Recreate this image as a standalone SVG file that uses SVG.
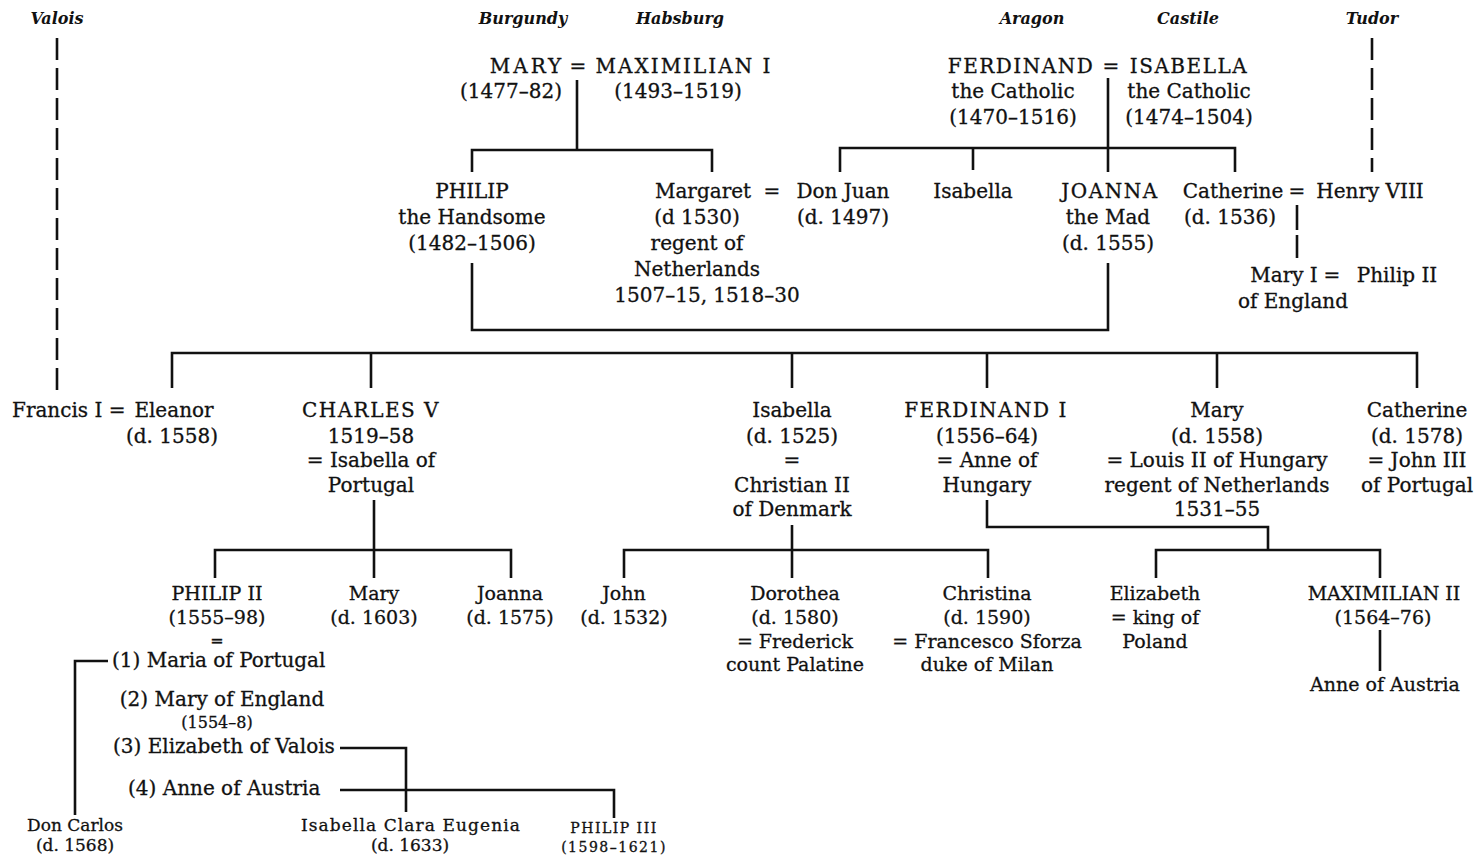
<svg xmlns="http://www.w3.org/2000/svg" width="1479" height="863" viewBox="0 0 1479 863">
<style>
text{font-family:"DejaVu Serif","Liberation Serif",serif;fill:#111;stroke:#111;stroke-width:0.3;font-size:20px;text-anchor:middle}
.h{font-style:italic;font-weight:bold;font-size:16px;stroke-width:0}
.c{letter-spacing:1.5px}
.s{font-size:19px}
.w{font-size:20px;text-anchor:start}
.st{text-anchor:start}
.b{font-size:17px}
.bs{font-size:16px}
.xs{font-size:14px;letter-spacing:1.5px}
.ln{stroke:#111;stroke-width:2.6;fill:none}
.dash{stroke-dasharray:22 8}
</style>
<rect width="1479" height="863" fill="#fff"/>
<g id="connectors" class="ln">
<path class="ln dash" d="M57 38V390"/>
<path class="ln dash" d="M1372 38V172"/>
<path d="M577 80V150M472 172V150H712V172"/>
<path d="M1108 78V172M840 172V148H1235V172M973 148V170"/>
<path d="M1297 205V230M1297 235V258"/>
<path d="M472 263V330H1108V263"/>
<path d="M172 388V353H1417V388M371 353V388M792 353V388M987 353V388M1217 353V388"/>
<path d="M374 500V578M215 578V550H511V578"/>
<path d="M792 525V578M624 578V550H988V578"/>
<path d="M987 500V527H1268V550M1156 578V550H1380V578"/>
<path d="M1380 630V671"/>
<path d="M108 661H75V815"/>
<path d="M340 748H406V812"/>
<path d="M340 790H614V818"/>
</g>
<g id="houses">
<text class="h" x="57" y="24">Valois</text>
<text class="h" x="523" y="24">Burgundy</text>
<text class="h" x="680" y="24">Habsburg</text>
<text class="h" x="1032" y="24">Aragon</text>
<text class="h" x="1188" y="24">Castile</text>
<text class="h" x="1372" y="24">Tudor</text>
</g>
<g id="mary-burgundy">
<text x="527" y="73" style="letter-spacing:3px">MARY</text>
<text x="511" y="98">(1477–82)</text>
</g>
<text x="578" y="73">=</text>
<g id="maximilian-i">
<text x="684" y="73" style="letter-spacing:2px">MAXIMILIAN I</text>
<text x="678" y="98">(1493–1519)</text>
</g>
<g id="ferdinand-catholic">
<text class="c" x="1021" y="73">FERDINAND</text>
<text x="1013" y="98">the Catholic</text>
<text x="1013" y="124">(1470–1516)</text>
</g>
<text x="1111" y="73">=</text>
<g id="isabella-catholic">
<text class="c" x="1189" y="73">ISABELLA</text>
<text x="1189" y="98">the Catholic</text>
<text x="1189" y="124">(1474–1504)</text>
</g>
<g id="philip-handsome">
<text x="472" y="198">PHILIP</text>
<text x="472" y="224">the Handsome</text>
<text x="472" y="250">(1482–1506)</text>
</g>
<g id="margaret">
<text x="703" y="198">Margaret</text>
<text x="697" y="224">(d 1530)</text>
<text x="697" y="250">regent of</text>
<text x="697" y="276">Netherlands</text>
<text x="707" y="302">1507–15, 1518–30</text>
</g>
<text x="772" y="198">=</text>
<g id="don-juan">
<text x="843" y="198">Don Juan</text>
<text x="843" y="224">(d. 1497)</text>
</g>
<g id="isabella-1"><text x="973" y="198">Isabella</text></g>
<g id="joanna-mad">
<text class="c" x="1110" y="198">JOANNA</text>
<text x="1108" y="224">the Mad</text>
<text x="1108" y="250">(d. 1555)</text>
</g>
<g id="catherine-aragon">
<text x="1233" y="198">Catherine</text>
<text x="1230" y="224">(d. 1536)</text>
</g>
<text x="1297" y="198">=</text>
<g id="henry-viii"><text x="1370" y="198">Henry VIII</text></g>
<g id="mary-i-england">
<text x="1284" y="282">Mary I</text>
<text x="1293" y="308">of England</text>
</g>
<text x="1332" y="282">=</text>
<g id="philip-ii-tudor"><text x="1397" y="282">Philip II</text></g>
<g id="francis-i"><text class="st" x="12" y="417">Francis I =</text></g>
<g id="eleanor">
<text x="174" y="417">Eleanor</text>
<text x="172" y="443">(d. 1558)</text>
</g>
<g id="charles-v">
<text class="c" x="371" y="417">CHARLES V</text>
<text x="371" y="443">1519–58</text>
<text x="371" y="467">= Isabella of</text>
<text x="371" y="492">Portugal</text>
</g>
<g id="isabella-denmark">
<text x="792" y="417">Isabella</text>
<text x="792" y="443">(d. 1525)</text>
<text x="792" y="467">=</text>
<text x="792" y="492">Christian II</text>
<text x="792" y="516">of Denmark</text>
</g>
<g id="ferdinand-i">
<text class="c" x="986" y="417">FERDINAND I</text>
<text x="987" y="443">(1556–64)</text>
<text x="987" y="467">= Anne of</text>
<text x="987" y="492">Hungary</text>
</g>
<g id="mary-hungary">
<text x="1217" y="417">Mary</text>
<text x="1217" y="443">(d. 1558)</text>
<text x="1217" y="467">= Louis II of Hungary</text>
<text x="1217" y="492">regent of Netherlands</text>
<text x="1217" y="516">1531–55</text>
</g>
<g id="catherine-portugal">
<text x="1417" y="417">Catherine</text>
<text x="1417" y="443">(d. 1578)</text>
<text x="1417" y="467">= John III</text>
<text x="1417" y="492">of Portugal</text>
</g>
<g id="philip-ii">
<text class="s" x="217" y="600">PHILIP II</text>
<text class="s" x="217" y="624">(1555–98)</text>
<text class="bs" x="217" y="646">=</text>
</g>
<g id="mary-1603">
<text class="s" x="374" y="600">Mary</text>
<text class="s" x="374" y="624">(d. 1603)</text>
</g>
<g id="joanna-1575">
<text class="s" x="510" y="600">Joanna</text>
<text class="s" x="510" y="624">(d. 1575)</text>
</g>
<g id="john-1532">
<text class="s" x="624" y="600">John</text>
<text class="s" x="624" y="624">(d. 1532)</text>
</g>
<g id="dorothea">
<text class="s" x="795" y="600">Dorothea</text>
<text class="s" x="795" y="624">(d. 1580)</text>
<text class="s" x="795" y="648">= Frederick</text>
<text class="s" x="795" y="671">count Palatine</text>
</g>
<g id="christina">
<text class="s" x="987" y="600">Christina</text>
<text class="s" x="987" y="624">(d. 1590)</text>
<text class="s" x="987" y="648">= Francesco Sforza</text>
<text class="s" x="987" y="671">duke of Milan</text>
</g>
<g id="elizabeth-poland">
<text class="s" x="1155" y="600">Elizabeth</text>
<text class="s" x="1155" y="624">= king of</text>
<text class="s" x="1155" y="648">Poland</text>
</g>
<g id="maximilian-ii">
<text class="s" x="1384" y="600">MAXIMILIAN II</text>
<text class="s" x="1383" y="624">(1564–76)</text>
</g>
<g id="anne-austria-child"><text class="s" x="1385" y="691">Anne of Austria</text></g>
<g id="wife-1"><text class="w" x="112" y="667">(1) Maria of Portugal</text></g>
<g id="wife-2">
<text class="s" x="222" y="706" style="font-size:20px">(2) Mary of England</text>
<text class="bs" x="217" y="728">(1554–8)</text>
</g>
<g id="wife-3"><text class="w" x="113" y="753">(3) Elizabeth of Valois</text></g>
<g id="wife-4"><text class="w" x="128" y="795">(4) Anne of Austria</text></g>
<g id="don-carlos">
<text class="b" x="75" y="831">Don Carlos</text>
<text class="b" x="75" y="851">(d. 1568)</text>
</g>
<g id="isabella-clara-eugenia">
<text class="b" x="411" y="831" style="letter-spacing:1.1px">Isabella Clara Eugenia</text>
<text class="b" x="410" y="851">(d. 1633)</text>
</g>
<g id="philip-iii">
<text class="xs" x="614" y="833">PHILIP III</text>
<text class="xs" x="614" y="852">(1598–1621)</text>
</g>
</svg>
